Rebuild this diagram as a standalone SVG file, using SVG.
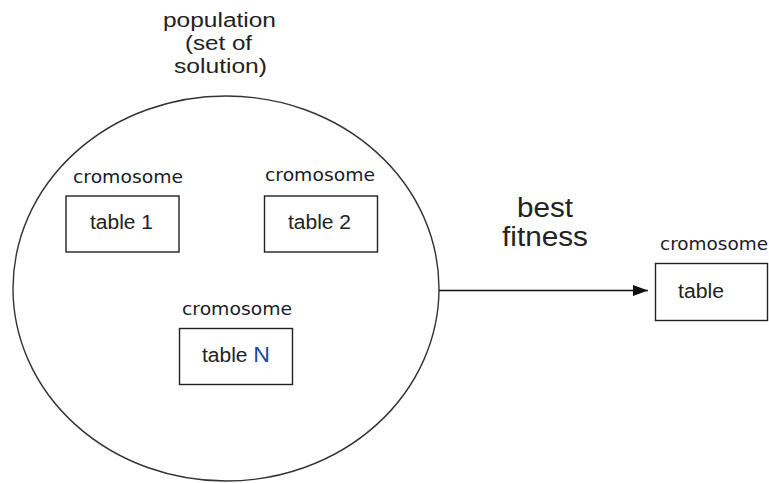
<svg xmlns="http://www.w3.org/2000/svg" width="769" height="483" viewBox="0 0 769 483">
<style>
.box{fill:#fff;stroke:#222;stroke-width:1.4}
.lbl{font-family:"Liberation Sans",Arial,sans-serif;fill:#222;text-anchor:start}
.chr{font-family:"DejaVu Sans",Verdana,sans-serif;font-size:17px;fill:#1a1a2a}
.tbl{font-size:20px}
.big{font-size:20px}
.fit{font-size:27px}
</style>
<defs>
<marker id="arrow" markerWidth="15" markerHeight="11" refX="15" refY="5.5" orient="auto" markerUnits="userSpaceOnUse">
<polygon points="0,0 15,5.5 0,11" fill="#111"/>
</marker>
</defs>
<rect width="769" height="483" fill="#fff"/>
<g id="population">
<ellipse cx="226" cy="288.5" rx="213" ry="192.5" fill="none" stroke="#333" stroke-width="1.4"/>
<text class="lbl big" x="163" y="27" textLength="113" lengthAdjust="spacingAndGlyphs">population</text>
<text class="lbl big" x="185" y="50" textLength="67" lengthAdjust="spacingAndGlyphs">(set of</text>
<text class="lbl big" x="174" y="73" textLength="93" lengthAdjust="spacingAndGlyphs">solution)</text>
</g>
<g id="chromosome1">
<text class="chr" x="73" y="183" textLength="110" lengthAdjust="spacingAndGlyphs">cromosome</text>
<rect class="box" x="66" y="196" width="113" height="56"/>
<text class="lbl tbl" x="90" y="229" textLength="63" lengthAdjust="spacingAndGlyphs">table 1</text>
</g>
<g id="chromosome2">
<text class="chr" x="265" y="181" textLength="110" lengthAdjust="spacingAndGlyphs">cromosome</text>
<rect class="box" x="264.5" y="196" width="113" height="56"/>
<text class="lbl tbl" x="288" y="229" textLength="63" lengthAdjust="spacingAndGlyphs">table 2</text>
</g>
<g id="chromosomeN">
<text class="chr" x="182" y="315" textLength="110" lengthAdjust="spacingAndGlyphs">cromosome</text>
<rect class="box" x="179.5" y="328.5" width="113" height="56"/>
<text class="lbl tbl" x="202" y="362" textLength="68" lengthAdjust="spacingAndGlyphs">table <tspan fill="#1c4a9c" font-size="22px">N</tspan></text>
</g>
<g id="best">
<text class="chr" x="660" y="250" textLength="108" lengthAdjust="spacingAndGlyphs">cromosome</text>
<rect class="box" x="655.5" y="263.5" width="112" height="57"/>
<text class="lbl tbl" x="678" y="298" textLength="46" lengthAdjust="spacingAndGlyphs">table</text>
</g>
<g id="connectors">
<line x1="439" y1="290.5" x2="648" y2="290.5" stroke="#111" stroke-width="1.4" marker-end="url(#arrow)"/>
<text class="lbl fit" x="517" y="217" textLength="56" lengthAdjust="spacingAndGlyphs">best</text>
<text class="lbl fit" x="502" y="246" textLength="86" lengthAdjust="spacingAndGlyphs">fitness</text>
</g>
</svg>
